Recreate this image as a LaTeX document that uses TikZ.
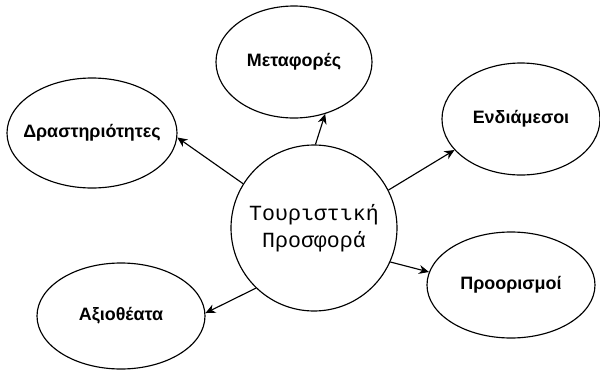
\documentclass[tikz,border=0pt]{standalone}
\usepackage{fontspec}
\setmainfont{Liberation Sans}
\newfontfamily\monofont{Liberation Mono}
\usetikzlibrary{arrows.meta,shapes.geometric}
\tikzset{
    oval/.style={draw,ellipse,line width=0.65pt,inner sep=0pt},
    hub/.style={draw,circle,line width=0.65pt,inner sep=0pt,minimum size=166*0.02cm,align=center},
    lbl/.style={font=\fontsize{10.2}{12}\selectfont\bfseries},
    link/.style={-{Stealth[length=10*0.02cm,width=9*0.02cm]},line width=0.65pt},
}
\begin{document}
\begin{tikzpicture}[x=0.02cm, y=-0.02cm]
% canvas
                \useasboundingbox (0,0) rectangle (600,373);
% --- centre ---
                \node[hub, font=\monofont\fontsize{12.3}{15.4}\selectfont] (tour) at (314,228) {Τουριστική\\Προσφορά};
% --- outer ovals ---
                \node[oval, minimum width=156*0.02cm, minimum height=112*0.02cm] (metaf) at (294,62) {};
                \node[lbl] at (metaf) {Μεταφορές};
                \node[oval, minimum width=170*0.02cm, minimum height=110*0.02cm] (drast) at (92,133) {};
                \node[lbl] at (drast) {Δραστηριότητες};
                \node[oval, minimum width=158*0.02cm, minimum height=112*0.02cm] (endia) at (521,119) {};
                \node[lbl] at (endia) {Ενδιάμεσοι};
                \node[oval, minimum width=168*0.02cm, minimum height=106*0.02cm] (axio) at (121,316) {};
                \node[lbl] at (axio) {Αξιοθέατα};
                \node[oval, minimum width=168*0.02cm, minimum height=106*0.02cm] (proor) at (511,285) {};
                \node[lbl] at (proor) {Προορισμοί};
% --- arrows ---
                \draw[link] (tour.148) -- (drast.-3);
                \draw[link] (tour.89) -- (metaf.-59);
                \draw[link] (tour.27) -- (endia.205);
                \draw[link] (tour.-24) -- (proor.171);
                \draw[link] (tour.226) -- (axio.2);
\end{tikzpicture}
\end{document}
